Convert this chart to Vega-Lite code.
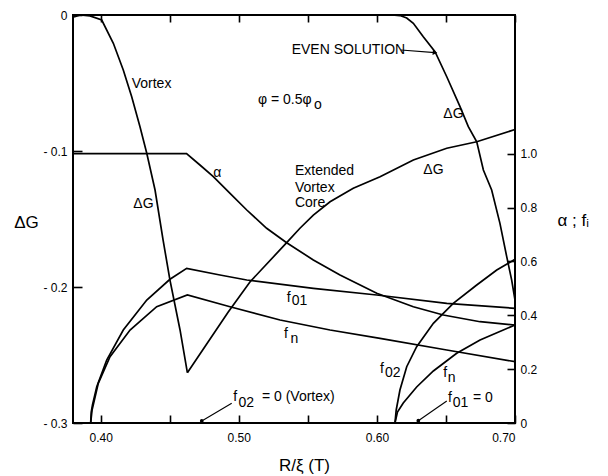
{
  "$schema": "https://vega.github.io/schema/vega-lite/v6.json",
  "width": 442,
  "height": 408,
  "autosize": {"type": "none"},
  "padding": {"left": 73, "top": 15, "right": 93, "bottom": 53},
  "config": {
    "font": "Liberation Sans",
    "view": {"stroke": "black", "strokeWidth": 2},
    "axis": {"domain": false, "grid": false, "ticks": true, "tickColor": "black", "tickWidth": 1.6, "tickOpacity": 1, "labelColor": "black", "labelFontSize": 12, "titleColor": "black", "titleFontWeight": "normal", "titleFontSize": 17}
  },
  "datasets": {
    "dg": [
      {"s": "vortex", "x": 0.3807, "v": -0.0015},
      {"s": "vortex", "x": 0.3851, "v": 0},
      {"s": "vortex", "x": 0.3923, "v": -0.0007},
      {"s": "vortex", "x": 0.4008, "v": -0.0037},
      {"s": "vortex", "x": 0.4092, "v": -0.0208},
      {"s": "vortex", "x": 0.4164, "v": -0.0404},
      {"s": "vortex", "x": 0.4225, "v": -0.0601},
      {"s": "vortex", "x": 0.4285, "v": -0.0821},
      {"s": "vortex", "x": 0.4334, "v": -0.1017},
      {"s": "vortex", "x": 0.4394, "v": -0.1287},
      {"s": "vortex", "x": 0.4452, "v": -0.1654},
      {"s": "vortex", "x": 0.4502, "v": -0.1949},
      {"s": "vortex", "x": 0.4575, "v": -0.2316},
      {"s": "vortex", "x": 0.4628, "v": -0.2630},
      {"s": "extended", "x": 0.4628, "v": -0.2630},
      {"s": "extended", "x": 0.4768, "v": -0.2419},
      {"s": "extended", "x": 0.4924, "v": -0.2184},
      {"s": "extended", "x": 0.5081, "v": -0.1963},
      {"s": "extended", "x": 0.5347, "v": -0.1674},
      {"s": "extended", "x": 0.5443, "v": -0.1568},
      {"s": "extended", "x": 0.5540, "v": -0.1471},
      {"s": "extended", "x": 0.5661, "v": -0.1373},
      {"s": "extended", "x": 0.5829, "v": -0.1274},
      {"s": "extended", "x": 0.6023, "v": -0.1189},
      {"s": "extended", "x": 0.6264, "v": -0.1066},
      {"s": "extended", "x": 0.6506, "v": -0.0980},
      {"s": "extended", "x": 0.6723, "v": -0.0932},
      {"s": "extended", "x": 0.7000, "v": -0.0842},
      {"s": "even", "x": 0.6110, "v": 0},
      {"s": "even", "x": 0.6167, "v": -0.0004},
      {"s": "even", "x": 0.6216, "v": -0.0022},
      {"s": "even", "x": 0.6264, "v": -0.0061},
      {"s": "even", "x": 0.6336, "v": -0.0160},
      {"s": "even", "x": 0.6421, "v": -0.0270},
      {"s": "even", "x": 0.6506, "v": -0.0454},
      {"s": "even", "x": 0.6602, "v": -0.0674},
      {"s": "even", "x": 0.6662, "v": -0.0821},
      {"s": "even", "x": 0.6723, "v": -0.0932},
      {"s": "even", "x": 0.6771, "v": -0.1140},
      {"s": "even", "x": 0.6831, "v": -0.1287},
      {"s": "even", "x": 0.6891, "v": -0.1532},
      {"s": "even", "x": 0.6940, "v": -0.1777},
      {"s": "even", "x": 0.6976, "v": -0.1949},
      {"s": "even", "x": 0.7000, "v": -0.2096}
    ],
    "fr": [
      {"s": "alpha", "x": 0.3800, "r": 1.0},
      {"s": "alpha", "x": 0.4622, "r": 1.0},
      {"s": "alpha", "x": 0.4719, "r": 0.958},
      {"s": "alpha", "x": 0.4816, "r": 0.9146},
      {"s": "alpha", "x": 0.4937, "r": 0.8529},
      {"s": "alpha", "x": 0.5058, "r": 0.7909},
      {"s": "alpha", "x": 0.5202, "r": 0.7230},
      {"s": "alpha", "x": 0.5347, "r": 0.6695},
      {"s": "alpha", "x": 0.5540, "r": 0.6053},
      {"s": "alpha", "x": 0.5733, "r": 0.5496},
      {"s": "alpha", "x": 0.5999, "r": 0.4816},
      {"s": "alpha", "x": 0.6264, "r": 0.4318},
      {"s": "alpha", "x": 0.6481, "r": 0.4010},
      {"s": "alpha", "x": 0.6747, "r": 0.3761},
      {"s": "alpha", "x": 0.7000, "r": 0.3639},
      {"s": "f01", "x": 0.3928, "r": 0},
      {"s": "f01", "x": 0.3932, "r": 0.0408},
      {"s": "f01", "x": 0.3941, "r": 0.0668},
      {"s": "f01", "x": 0.3972, "r": 0.1348},
      {"s": "f01", "x": 0.4044, "r": 0.2339},
      {"s": "f01", "x": 0.4164, "r": 0.3453},
      {"s": "f01", "x": 0.4334, "r": 0.4567},
      {"s": "f01", "x": 0.4502, "r": 0.5336},
      {"s": "f01", "x": 0.4623, "r": 0.5744},
      {"s": "f01", "x": 0.4864, "r": 0.5495},
      {"s": "f01", "x": 0.5058, "r": 0.5310},
      {"s": "f01", "x": 0.5540, "r": 0.5002},
      {"s": "f01", "x": 0.5999, "r": 0.4753},
      {"s": "f01", "x": 0.6506, "r": 0.4445},
      {"s": "f01", "x": 0.7000, "r": 0.4259},
      {"s": "fn_vortex", "x": 0.3928, "r": 0},
      {"s": "fn_vortex", "x": 0.3938, "r": 0.0483},
      {"s": "fn_vortex", "x": 0.3983, "r": 0.1474},
      {"s": "fn_vortex", "x": 0.4068, "r": 0.2462},
      {"s": "fn_vortex", "x": 0.4213, "r": 0.3453},
      {"s": "fn_vortex", "x": 0.4406, "r": 0.4318},
      {"s": "fn_vortex", "x": 0.4628, "r": 0.4753},
      {"s": "fn_vortex", "x": 0.4937, "r": 0.4318},
      {"s": "fn_vortex", "x": 0.5299, "r": 0.3824},
      {"s": "fn_vortex", "x": 0.5661, "r": 0.3453},
      {"s": "fn_vortex", "x": 0.6023, "r": 0.3145},
      {"s": "fn_vortex", "x": 0.6506, "r": 0.2711},
      {"s": "fn_vortex", "x": 0.7000, "r": 0.2276},
      {"s": "f02", "x": 0.6131, "r": 0},
      {"s": "f02", "x": 0.6140, "r": 0.0483},
      {"s": "f02", "x": 0.6167, "r": 0.1225},
      {"s": "f02", "x": 0.6216, "r": 0.2090},
      {"s": "f02", "x": 0.6288, "r": 0.2833},
      {"s": "f02", "x": 0.6409, "r": 0.3702},
      {"s": "f02", "x": 0.6553, "r": 0.4445},
      {"s": "f02", "x": 0.6723, "r": 0.5124},
      {"s": "f02", "x": 0.6868, "r": 0.5681},
      {"s": "f02", "x": 0.7000, "r": 0.6078},
      {"s": "fn_even", "x": 0.6131, "r": 0},
      {"s": "fn_even", "x": 0.6149, "r": 0.0408},
      {"s": "fn_even", "x": 0.6191, "r": 0.0743},
      {"s": "fn_even", "x": 0.6288, "r": 0.1337},
      {"s": "fn_even", "x": 0.6409, "r": 0.1931},
      {"s": "fn_even", "x": 0.6578, "r": 0.2588},
      {"s": "fn_even", "x": 0.6747, "r": 0.3082},
      {"s": "fn_even", "x": 0.7000, "r": 0.3639}
    ],
    "lab": [
      {"t": "Vortex", "x": 0.4225, "v": -0.0537},
      {"t": "ΔG", "x": 0.4237, "v": -0.1421},
      {"t": "α", "x": 0.4816, "v": -0.1189},
      {"t": "φ = 0.5φ", "x": 0.5139, "v": -0.0654},
      {"t": "o", "x": 0.5545, "v": -0.0690},
      {"t": "Extended", "x": 0.5407, "v": -0.1176},
      {"t": "Vortex", "x": 0.5407, "v": -0.1299},
      {"t": "Core", "x": 0.5407, "v": -0.1414},
      {"t": "EVEN SOLUTION", "x": 0.5383, "v": -0.0287},
      {"t": "ΔG", "x": 0.6481, "v": -0.0757},
      {"t": "ΔG", "x": 0.6336, "v": -0.1169},
      {"t": "f", "x": 0.5347, "v": -0.2108},
      {"t": "01", "x": 0.5383, "v": -0.2132},
      {"t": "f", "x": 0.5328, "v": -0.2375},
      {"t": "n", "x": 0.5375, "v": -0.2412},
      {"t": "f", "x": 0.6023, "v": -0.2635},
      {"t": "02", "x": 0.6059, "v": -0.2660},
      {"t": "f", "x": 0.6481, "v": -0.2660},
      {"t": "n", "x": 0.6514, "v": -0.2696},
      {"t": "f", "x": 0.4961, "v": -0.2838},
      {"t": "02", "x": 0.4998, "v": -0.2879},
      {"t": "= 0 (Vortex)", "x": 0.5168, "v": -0.2838},
      {"t": "f", "x": 0.6515, "v": -0.2843},
      {"t": "01", "x": 0.6549, "v": -0.2880},
      {"t": "= 0", "x": 0.6696, "v": -0.2843}
    ],
    "arr": [
      {"x": 0.6175, "v": -0.0257, "x2": 0.6421, "v2": -0.0277},
      {"x": 0.4949, "v": -0.2855, "x2": 0.4732, "v2": -0.2985},
      {"x": 0.6506, "v": -0.2838, "x2": 0.6300, "v2": -0.2983}
    ],
    "heads": [
      {"k": "tri", "x": 0.6421, "v": -0.0277},
      {"k": "dot", "x": 0.4732, "v": -0.2985},
      {"k": "dot", "x": 0.6300, "v": -0.2983}
    ]
  },
  "layer": [
    {
      "data": {"name": "dg"},
      "mark": {"type": "line", "color": "black", "strokeWidth": 1.7},
      "encoding": {
        "x": {"field": "x", "type": "quantitative", "scale": {"domain": [0.38, 0.70], "nice": false, "zero": false},
          "axis": {"orient": "bottom", "values": [0.40, 0.45, 0.50, 0.55, 0.60, 0.65, 0.70],
            "labelExpr": "abs(datum.value*10 - round(datum.value*10)) < 0.001 ? format(datum.value, '.2f') : ''",
            "labelFlush": true, "offset": -8, "tickSize": 8, "labelPadding": 9,
            "title": "R/ξ (T)", "titleX": 231, "titleY": 55, "titleAlign": "center", "titleBaseline": "alphabetic"}},
        "y": {"field": "v", "type": "quantitative", "scale": {"domain": [-0.3, 0], "nice": false, "zero": false},
          "axis": {"orient": "left", "values": [0, -0.1, -0.2, -0.3],
            "labelExpr": "datum.value == 0 ? '0' : '- ' + format(abs(datum.value), '.1f')",
            "offset": -9, "tickSize": 9, "labelPadding": 6,
            "title": "ΔG", "titleAngle": 0, "titleX": -56, "titleY": 212, "titleAlign": "center", "titleBaseline": "alphabetic"}},
        "detail": {"field": "s"}
      }
    },
    {
      "data": {"name": "fr"},
      "mark": {"type": "line", "color": "black", "strokeWidth": 1.7},
      "encoding": {
        "x": {"field": "x", "type": "quantitative", "scale": {"domain": [0.38, 0.70], "nice": false, "zero": false},
          "axis": {"orient": "top", "values": [0.40, 0.45, 0.50, 0.55, 0.60, 0.65, 0.70], "labels": false, "offset": -7, "tickSize": 7, "title": null}},
        "y": {"field": "r", "type": "quantitative", "scale": {"domain": [0, 1.515], "nice": false, "zero": false},
          "axis": {"orient": "right", "values": [0, 0.2, 0.4, 0.6, 0.8, 1.0],
            "labelExpr": "datum.value == 0 ? '0' : format(datum.value, '.1f')",
            "offset": -8, "tickSize": 8, "labelPadding": 5,
            "title": "α ; fᵢ", "titleAngle": 0, "titleX": 50, "titleY": 210, "titleAlign": "left", "titleBaseline": "alphabetic"}},
        "detail": {"field": "s"}
      }
    },
    {
      "data": {"name": "arr"},
      "mark": {"type": "rule", "color": "black", "strokeWidth": 1.1},
      "encoding": {
        "x": {"field": "x", "type": "quantitative", "axis": null},
        "y": {"field": "v", "type": "quantitative", "scale": {"domain": [-0.3, 0], "nice": false, "zero": false}, "axis": null},
        "x2": {"field": "x2"},
        "y2": {"field": "v2"}
      }
    },
    {
      "data": {"name": "heads"},
      "transform": [{"filter": "datum.k == 'tri'"}],
      "mark": {"type": "point", "shape": "triangle-right", "filled": true, "color": "black", "size": 28, "angle": 5, "opacity": 1},
      "encoding": {
        "x": {"field": "x", "type": "quantitative", "axis": null},
        "y": {"field": "v", "type": "quantitative", "scale": {"domain": [-0.3, 0], "nice": false, "zero": false}, "axis": null}
      }
    },
    {
      "data": {"name": "heads"},
      "transform": [{"filter": "datum.k == 'dot'"}],
      "mark": {"type": "point", "shape": "circle", "filled": true, "color": "black", "size": 14, "opacity": 1},
      "encoding": {
        "x": {"field": "x", "type": "quantitative", "axis": null},
        "y": {"field": "v", "type": "quantitative", "scale": {"domain": [-0.3, 0], "nice": false, "zero": false}, "axis": null}
      }
    },
    {
      "data": {"name": "lab"},
      "mark": {"type": "text", "align": "left", "baseline": "alphabetic", "fontSize": 14, "color": "black"},
      "encoding": {
        "x": {"field": "x", "type": "quantitative", "axis": null},
        "y": {"field": "v", "type": "quantitative", "scale": {"domain": [-0.3, 0], "nice": false, "zero": false}, "axis": null},
        "text": {"field": "t"}
      }
    }
  ],
  "resolve": {"scale": {"y": "independent"}, "axis": {"x": "independent"}}
}
